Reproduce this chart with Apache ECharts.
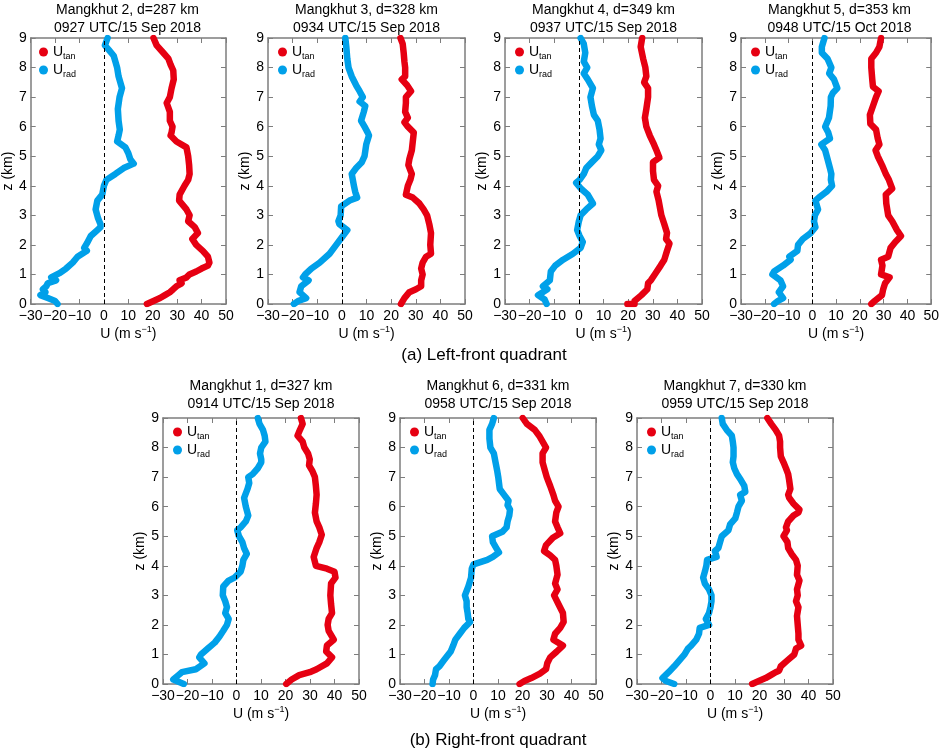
<!DOCTYPE html>
<html><head><meta charset="utf-8">
<script src="https://cdn.jsdelivr.net/npm/echarts@6/dist/echarts.min.js"></script>
<style>html,body{margin:0;padding:0;background:#fff}#c{width:942px;height:752px}</style>
</head><body><div id="c"></div>
<script>
// ---------- data ----------
const xTickMin = -30, xTickMax = 50, xTickStep = 10;
const zTickMin = 0, zTickMax = 9, zTickStep = 1;

const panelTitles = [
  "Mangkhut 2, d=287 km\n0927 UTC/15 Sep 2018",
  "Mangkhut 3, d=328 km\n0934 UTC/15 Sep 2018",
  "Mangkhut 4, d=349 km\n0937 UTC/15 Sep 2018",
  "Mangkhut 5, d=353 km\n0948 UTC/15 Oct 2018",
  "Mangkhut 1, d=327 km\n0914 UTC/15 Sep 2018",
  "Mangkhut 6, d=331 km\n0958 UTC/15 Sep 2018",
  "Mangkhut 7, d=330 km\n0959 UTC/15 Sep 2018"
];
const captions = ["(a) Left-front quadrant", "(b) Right-front quadrant"];
const seriesNames = ["tan", "rad"];

// [U (m/s), z (km)]
const m2Rad = [[1.5,9],[0.4,8.75],[2,8.6],[4,8.4],[4.7,8.2],[5.4,8.0],[6,7.7],[7.4,7.3],[6.4,7.0],[5.7,6.6],[6,6.2],[6.5,5.9],[6,5.7],[5.4,5.5],[8.8,5.3],[10,5.1],[10.8,4.9],[12.2,4.75],[8.1,4.6],[4.7,4.4],[1,4.2],[0,4.0],[-0.7,3.7],[-2.7,3.5],[-3.4,3.2],[-2.4,2.9],[-1.4,2.7],[-1.4,2.6],[-2.7,2.5],[-5.4,2.3],[-7,2.05],[-8.1,1.9],[-7,1.8],[-10.8,1.6],[-12.8,1.4],[-15.5,1.2],[-18,1.05],[-21.6,0.9],[-19.6,0.8],[-23,0.7],[-23.6,0.6],[-25,0.5],[-24,0.4],[-26,0.3],[-23,0.2],[-20,0.1],[-19,0]];
const m2Tan = [[20.3,9],[21.6,8.75],[24.3,8.5],[26.4,8.3],[27.3,8.1],[28.4,7.9],[28.6,7.6],[27.7,7.3],[27,7.0],[25.7,6.8],[27,6.5],[27,6.2],[28.1,6.0],[27.7,5.8],[27.3,5.7],[29.7,5.5],[33.8,5.3],[34.5,5.0],[34.9,4.7],[35.1,4.4],[34.5,4.2],[33,4.0],[31,3.7],[30.8,3.5],[33.8,3.2],[35.1,3.0],[34.5,2.8],[37.2,2.6],[38.5,2.4],[36.2,2.2],[37.8,2.0],[40.5,1.8],[42.6,1.6],[43.2,1.4],[42.6,1.3],[40,1.2],[37.8,1.1],[35,1.0],[33.8,0.9],[31,0.8],[31.8,0.7],[29.7,0.6],[28.4,0.5],[27,0.4],[25,0.3],[23,0.2],[20.3,0.1],[17.6,0]];

const m3Rad = [[1.4,9],[1.8,8.7],[2.2,8.3],[2.7,8.0],[4,7.7],[5.8,7.4],[7.2,7.2],[8.5,7.0],[7.2,6.85],[9.5,6.7],[8.9,6.5],[7.8,6.2],[9.2,6.0],[10.5,5.8],[11,5.7],[9.9,5.4],[9.2,5.0],[8.1,4.8],[5.8,4.6],[4,4.4],[4.9,4.0],[5.4,3.8],[6.2,3.6],[3.1,3.5],[-0.3,3.3],[-0.5,3.0],[-1.4,2.8],[-1,2.7],[2.2,2.5],[0.4,2.3],[-2.3,2.0],[-5,1.7],[-9,1.4],[-12.4,1.2],[-14.9,1.0],[-15.8,0.9],[-13.5,0.8],[-16.5,0.6],[-17.2,0.4],[-14.5,0.2],[-17.8,0.1],[-19.5,0]];
const m3Tan = [[23.8,9],[24.7,8.8],[25.1,8.5],[25.4,8.2],[25.7,8.0],[25.7,7.7],[24.3,7.6],[26.5,7.4],[28.1,7.2],[26,7.0],[26,6.8],[25.7,6.5],[26.8,6.3],[25.4,6.15],[26.8,6.0],[29.2,5.8],[28.8,5.5],[28.4,5.2],[27.4,4.9],[27,4.7],[28.4,4.4],[27.8,4.2],[26.8,4.0],[26,3.7],[28.8,3.6],[31.5,3.4],[33.2,3.2],[34.6,3.0],[35.5,2.7],[36.2,2.4],[35.9,2.0],[36.2,1.7],[34.2,1.6],[32.8,1.4],[32.2,1.2],[32.8,1.0],[32.2,0.8],[32.2,0.6],[30.1,0.5],[27.4,0.4],[25.4,0.2],[24,0]];

const m4Rad = [[0.7,9],[2,8.8],[2.6,8.5],[2,8.2],[3.4,8.0],[2,7.8],[3.6,7.6],[5.7,7.3],[4.7,7.0],[5.3,6.7],[6.1,6.4],[7.7,6.2],[8.4,5.9],[8.8,5.6],[8.1,5.4],[9.1,5.2],[7.7,5.0],[5.3,4.8],[3,4.6],[2,4.4],[0.3,4.2],[-1.1,4.1],[0.9,3.9],[3.6,3.7],[5.7,3.4],[3,3.2],[0.7,3.0],[0,2.8],[-0.7,2.5],[0.3,2.3],[1.6,2.1],[0.7,1.9],[-2.4,1.7],[-6.4,1.5],[-9.6,1.3],[-11.4,1.1],[-11.8,0.8],[-14.6,0.6],[-12.8,0.5],[-16.6,0.3],[-13.9,0.15],[-13.1,0]];
const m4Tan = [[25.7,9],[25.1,8.7],[26.1,8.3],[27,8.0],[27.4,7.7],[26.5,7.5],[28.1,7.3],[28.1,7.0],[27.4,6.6],[26.8,6.3],[27.4,6.0],[28.8,5.7],[30.5,5.4],[31.5,5.2],[32.7,4.95],[30.1,4.8],[30.1,4.5],[30.5,4.2],[32.2,4.0],[31.5,3.8],[32.4,3.5],[33.5,3.0],[34.7,2.7],[35.8,2.4],[35.4,2.2],[36.8,2.05],[35.8,1.8],[34.7,1.5],[33.2,1.3],[30.8,1.0],[29.2,0.8],[28.1,0.7],[27.8,0.5],[25.4,0.3],[22.6,0.1],[22.6,0],[19.7,0]];

const m5Rad = [[5.1,9],[4,8.7],[4,8.5],[6.4,8.3],[8,8.0],[7.1,7.8],[9.1,7.6],[10.5,7.3],[8.7,7.15],[7.8,7.0],[7.7,6.7],[7,6.3],[5.4,6.0],[6.7,5.8],[7.4,5.6],[3.8,5.4],[5.4,5.2],[6.4,4.9],[7.4,4.6],[8,4.4],[7.8,4.2],[8.3,4.0],[6,3.8],[2.7,3.6],[1.3,3.5],[2.4,3.2],[1.1,3.0],[0.7,2.8],[1.3,2.6],[-0.7,2.4],[-4,2.2],[-6,2.0],[-6.3,1.8],[-9.7,1.6],[-9.1,1.5],[-12.3,1.3],[-16.1,1.1],[-16.8,1.0],[-13.4,0.8],[-12.3,0.6],[-14.1,0.4],[-12.3,0.2],[-14.5,0.1],[-16.1,0]];
const m5Tan = [[28.9,9],[28.2,8.7],[26.8,8.5],[24.8,8.3],[24.8,8.0],[25.2,7.6],[25.5,7.35],[27.9,7.2],[26.8,7.0],[25.5,6.7],[24.2,6.4],[24.4,6.1],[26.8,5.9],[27.5,5.6],[28.2,5.4],[26.6,5.2],[27.5,5.0],[29.3,4.7],[30.9,4.4],[32.2,4.2],[33.6,3.9],[30.9,3.7],[31.1,3.4],[31.9,3.0],[33.6,2.8],[35.6,2.5],[37.3,2.3],[34.9,2.1],[32.9,1.9],[31.9,1.6],[28.9,1.5],[29.5,1.3],[28.9,1.0],[32.5,0.9],[30.6,0.7],[29.8,0.5],[29.3,0.3],[26.2,0.1],[24.8,0]];

const m1Rad = [[8.7,9],[9.4,8.8],[10.8,8.6],[11.5,8.4],[11.8,8.2],[10.1,8.0],[9.6,7.8],[10.1,7.6],[10.1,7.5],[8.7,7.3],[6.6,7.1],[4.8,7.0],[5.2,6.8],[4.5,6.6],[3.1,6.3],[3.8,6.0],[4.8,5.7],[3.8,5.5],[1.7,5.3],[0.3,5.2],[1,5.0],[2.4,4.8],[3.1,4.6],[4.2,4.4],[2.8,4.2],[2.4,4.0],[1.7,3.8],[-0.8,3.6],[-3.2,3.5],[-5.4,3.3],[-5.6,3.0],[-4.6,2.8],[-3.9,2.6],[-4.6,2.4],[-3.2,2.2],[-3.9,2.0],[-5.4,1.8],[-7,1.6],[-8.9,1.4],[-11.7,1.2],[-14.5,1.0],[-15.2,0.9],[-13.1,0.7],[-16.6,0.5],[-22.3,0.4],[-23.7,0.3],[-25.8,0.15],[-24.4,0.1],[-21.5,0]];
const m1Tan = [[26.3,9],[27,8.8],[25.9,8.6],[24.9,8.4],[27,8.2],[27.7,8.0],[29.2,7.8],[29.9,7.6],[29.6,7.4],[31,7.2],[32,7.0],[32.4,6.7],[32.7,6.4],[32.4,6.1],[32,5.8],[32.7,5.5],[33.8,5.3],[34.8,5.05],[33.8,4.8],[32.7,4.6],[31.5,4.3],[32.4,4.0],[36.9,3.9],[40,3.8],[40.4,3.6],[38.6,3.4],[38.3,3.0],[38.6,2.7],[39,2.4],[37.6,2.2],[37.2,2.0],[37.6,1.8],[39.7,1.5],[36.9,1.3],[36.6,1.1],[39,0.9],[36.9,0.7],[32.7,0.5],[29.9,0.4],[25.6,0.3],[22.5,0.15],[20.3,0]];

const m6Rad = [[8.3,9],[7.6,8.8],[6.5,8.6],[6.5,8.3],[6.9,8.0],[8.3,7.8],[9,7.5],[9.7,7.2],[10.1,7.0],[10.4,6.8],[10.7,6.6],[12.5,6.4],[14.3,6.2],[13.9,6.05],[14.9,5.9],[14.6,5.7],[13.9,5.5],[13.5,5.3],[11.8,5.15],[7.6,5.0],[7.9,4.8],[9.3,4.6],[10.4,4.45],[7.9,4.3],[5.6,4.2],[0,4.05],[-0.7,3.9],[-1,3.6],[-2.1,3.3],[-3.5,3.0],[-2.8,2.8],[-2.8,2.6],[-2.4,2.4],[-2.1,2.2],[-1.4,2.1],[-3.8,1.9],[-5.6,1.7],[-7.4,1.5],[-8.3,1.3],[-9.3,1.1],[-12.1,0.8],[-13.9,0.6],[-15.3,0.5],[-15.7,0.3],[-16.5,0.15],[-16.7,0]];
const m6Tan = [[20.1,9],[21.8,8.8],[25,8.6],[26.8,8.4],[28.2,8.2],[29.6,8.0],[28.2,7.8],[28.2,7.5],[29.2,7.2],[29.9,7.0],[31.3,6.7],[32.6,6.4],[33.3,6.2],[34.7,6.0],[33.8,5.8],[33.3,5.5],[34.3,5.3],[35.4,5.1],[32.4,4.95],[29.6,4.7],[28.8,4.5],[31.3,4.35],[33.3,4.2],[33.8,4.0],[34.3,3.7],[33.3,3.4],[34.3,3.2],[32.9,3.0],[34.7,2.7],[36.5,2.4],[36.8,2.1],[35.4,1.9],[33.3,1.7],[32.6,1.5],[36.5,1.3],[34,1.1],[31.3,0.9],[30.1,0.7],[29.6,0.5],[27.1,0.35],[23.6,0.2],[20.8,0.1],[18.8,0]];

const m7Rad = [[4.6,9],[5,8.8],[6.6,8.6],[8.7,8.4],[9.1,8.2],[9.4,8.0],[9.4,7.7],[9.1,7.5],[9.7,7.3],[10.8,7.1],[12.4,6.9],[13.8,6.7],[14.2,6.5],[12.1,6.4],[12.8,6.2],[11.4,6.0],[10.8,5.8],[10.1,5.6],[8,5.4],[7.3,5.2],[4.6,5.0],[3.9,4.8],[3.2,4.6],[1.8,4.5],[2.5,4.3],[-1.4,4.2],[-1.7,4.0],[-2.3,3.8],[-3,3.6],[-2.3,3.4],[-0.6,3.2],[0.4,3.0],[0.4,2.8],[0,2.6],[-0.6,2.4],[-1.9,2.2],[-0.6,2.0],[-4.4,1.9],[-4.7,1.7],[-5.8,1.5],[-7.9,1.3],[-9.2,1.2],[-10.6,1.0],[-12.7,0.8],[-14.8,0.6],[-17.1,0.4],[-19.6,0.2],[-18.2,0.1],[-14.8,0]];
const m7Tan = [[23.2,9],[24.8,8.8],[26.6,8.6],[28,8.4],[28.4,8.2],[28.4,8.0],[28.7,7.7],[29.8,7.5],[30.8,7.3],[31.7,7.1],[32.1,6.9],[32.6,6.6],[31.7,6.4],[32.1,6.3],[33.9,6.1],[36.3,5.9],[35.9,5.8],[33.9,5.7],[31.7,5.5],[30.8,5.3],[31.2,5.2],[29.8,5.0],[31.4,4.8],[31.7,4.6],[33.1,4.4],[34.9,4.2],[35.6,4.0],[35.3,3.7],[36.3,3.5],[35.3,3.2],[35.6,3.0],[34.9,2.8],[35.9,2.6],[35.3,2.3],[35.6,2.0],[35.9,1.7],[35.9,1.5],[37,1.3],[34.9,1.2],[34.2,1.0],[31.4,0.8],[28.7,0.6],[28,0.45],[26.6,0.4],[24.6,0.3],[22.5,0.2],[19.7,0.1],[17,0]];

// ---------- layout ----------
const panelData = [
  {tan: m2Tan, rad: m2Rad}, {tan: m3Tan, rad: m3Rad}, {tan: m4Tan, rad: m4Rad}, {tan: m5Tan, rad: m5Rad},
  {tan: m1Tan, rad: m1Rad}, {tan: m6Tan, rad: m6Rad}, {tan: m7Tan, rad: m7Rad}
];
const boxes = [
  {left: 29, top: 38, width: 197}, {left: 268, top: 38, width: 197},
  {left: 505, top: 38, width: 197}, {left: 741, top: 38, width: 197},
  {left: 163, top: 418, width: 196}, {left: 400, top: 418, width: 196}, {left: 637, top: 418, width: 196}
];
const H = 266;
const FONT = "'Liberation Sans', Arial, Helvetica, sans-serif";
const RED = '#e60012', BLUE = '#00a0e9', AXC = '#7d7d7d';

const grid = [], xAxis = [], yAxis = [], series = [], legend = [], title = [];
const axLine = {show: true, onZero: false, lineStyle: {color: AXC, width: 1.5}};
const axTick = {show: true, inside: true, length: 5, lineStyle: {color: AXC, width: 1}};
const fmtMinus = v => String(v).replace('-', '\u2212');

boxes.forEach((b, i) => {
  grid.push({left: b.left, top: b.top, width: b.width, height: H, containLabel: false});
  xAxis.push({
    gridIndex: i, type: 'value', min: xTickMin, max: xTickMax, interval: xTickStep, position: 'bottom',
    axisLine: axLine, axisTick: axTick, splitLine: {show: false},
    axisLabel: {fontSize: 14, color: '#000', margin: 5, fontFamily: FONT, formatter: fmtMinus},
    name: '{a|U (m s}{b|\u22121}{a|)}', nameLocation: 'middle', nameGap: 21,
    nameTextStyle: {rich: {a: {fontSize: 14, color: '#000', fontFamily: FONT, lineHeight: 18},
                           b: {fontSize: 9, color: '#000', fontFamily: FONT, verticalAlign: 'top'}}}
  });
  xAxis.push({
    gridIndex: i, type: 'value', min: xTickMin, max: xTickMax, interval: xTickStep, position: 'top',
    axisLine: axLine, axisTick: axTick, splitLine: {show: false}, axisLabel: {show: false}
  });
  yAxis.push({
    gridIndex: i, type: 'value', min: zTickMin, max: zTickMax, interval: zTickStep, position: 'left',
    axisLine: axLine, axisTick: axTick, splitLine: {show: false},
    axisLabel: {fontSize: 14, color: '#000', margin: 4, fontFamily: FONT},
    name: 'z (km)', nameLocation: 'middle', nameGap: 14,
    nameTextStyle: {fontSize: 14, color: '#000', fontFamily: FONT}
  });
  yAxis.push({
    gridIndex: i, type: 'value', min: zTickMin, max: zTickMax, interval: zTickStep, position: 'right',
    axisLine: axLine, axisTick: axTick, splitLine: {show: false}, axisLabel: {show: false}
  });
  // zero reference line
  series.push({
    type: 'line', name: 'zero', xAxisIndex: 2 * i, yAxisIndex: 2 * i, data: [], z: 1, silent: true,
    markLine: {silent: true, symbol: ['none', 'none'], label: {show: false}, animation: false,
      lineStyle: {color: '#000', width: 1, type: [4, 3]}, data: [{xAxis: 0}]}
  });
  const d = panelData[i];
  [['tan', d.tan, RED], ['rad', d.rad, BLUE]].forEach(([nm, arr, col]) => {
    series.push({
      type: 'line', name: nm, xAxisIndex: 2 * i, yAxisIndex: 2 * i, data: arr, z: 3,
      showSymbol: false, symbol: 'circle', color: col, smooth: false,
      lineStyle: {color: col, width: 6.5, cap: 'round', join: 'round'}
    });
  });
  legend.push({
    data: seriesNames, orient: 'vertical', left: b.left + 10, top: b.top + 7,
    icon: 'circle', itemWidth: 9, itemHeight: 9, itemGap: 2, padding: 0, selectedMode: false,
    formatter: n => '{u|U}{s|' + n + '}',
    textStyle: {rich: {u: {fontSize: 14, color: '#000', fontFamily: FONT, lineHeight: 18},
                       s: {fontSize: 9, color: '#000', fontFamily: FONT, verticalAlign: 'bottom'}}}
  });
  title.push({
    text: panelTitles[i], left: b.left + b.width / 2, top: i < 4 ? 1 : 377, textAlign: 'center', padding: 0,
    textStyle: {fontSize: 14, fontWeight: 'normal', color: '#000', fontFamily: FONT, lineHeight: 18}
  });
});
title.push({text: captions[0], left: 484, top: 345, textAlign: 'center', padding: 0,
  textStyle: {fontSize: 17, fontWeight: 'normal', color: '#000', fontFamily: FONT, lineHeight: 20}});
title.push({text: captions[1], left: 498, top: 730, textAlign: 'center', padding: 0,
  textStyle: {fontSize: 17, fontWeight: 'normal', color: '#000', fontFamily: FONT, lineHeight: 20}});

const chart = echarts.init(document.getElementById('c'), null, {renderer: 'canvas'});
chart.setOption({
  backgroundColor: '#fff', animation: false, textStyle: {fontFamily: FONT},
  title, legend, grid, xAxis, yAxis, series
});
</script></body></html>
